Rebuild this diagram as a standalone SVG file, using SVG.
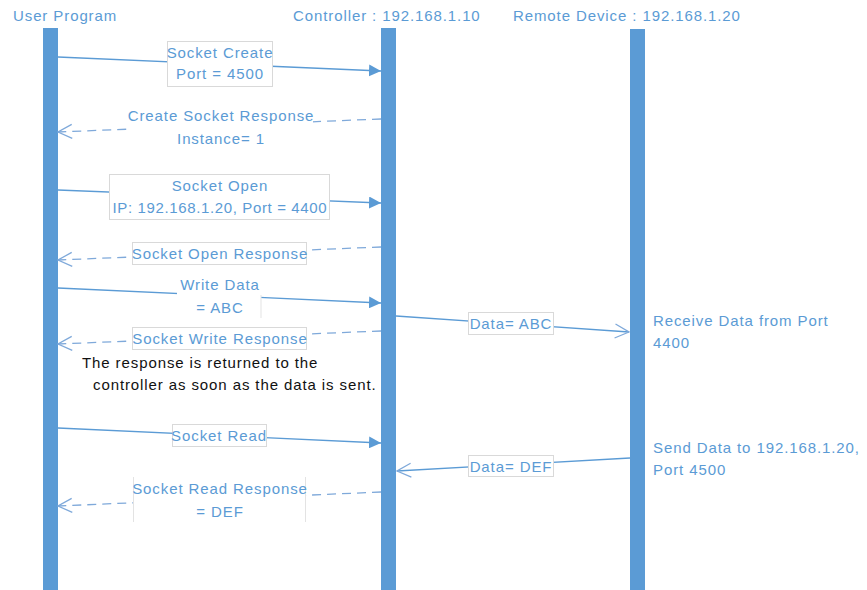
<svg xmlns="http://www.w3.org/2000/svg" width="867" height="590" viewBox="0 0 867 590">
<style>
text{font-family:"Liberation Sans",Arial,sans-serif;font-size:15px;letter-spacing:0.9px;fill:#5B9BD5}
.c{text-anchor:middle}
.note{fill:#111;letter-spacing:0.9px}
.bar{fill:#5B9BD5}
.msg{stroke:#5B9BD5;stroke-width:1.3;fill:none}
.ret{stroke:#7FA9DA;stroke-width:1.3;fill:none;stroke-dasharray:9,6}
.box{fill:#fff;stroke:#D9D9D9;stroke-width:1}
.bg{fill:#fff}
.edge{stroke:#E3E3E3;stroke-width:1}
</style>
<defs>
<marker id="filled" viewBox="0 0 12 12" refX="12" refY="6" markerWidth="12" markerHeight="12" markerUnits="userSpaceOnUse" orient="auto">
<path d="M0,0 L12,6 L0,12 Z" fill="#5B9BD5"/>
</marker>
<marker id="open" viewBox="0 0 16 16" refX="15" refY="8" markerWidth="16" markerHeight="16" markerUnits="userSpaceOnUse" orient="auto">
<path d="M1,1 L15,8 L1,15" fill="none" stroke="#7FA9DA" stroke-width="1.3"/>
</marker>
</defs>
<rect width="867" height="590" fill="#fff"/>

<g id="user-program">
<rect class="bar" x="43" y="28" width="15" height="562"/>
<text x="13" y="21">User Program</text>
</g>
<g id="controller">
<rect class="bar" x="381" y="28" width="15" height="562"/>
<text x="293" y="21">Controller : 192.168.1.10</text>
</g>
<g id="remote-device">
<rect class="bar" x="630" y="29" width="15" height="561"/>
<text x="513" y="21">Remote Device : 192.168.1.20</text>
<text x="653" y="326">Receive Data from Port</text>
<text x="653" y="348">4400</text>
<text x="653" y="453">Send Data to 192.168.1.20,</text>
<text x="653" y="475">Port 4500</text>
</g>

<g id="connectors">
<line class="msg" x1="58" y1="57" x2="381" y2="71" marker-end="url(#filled)"/>
<line class="ret" x1="381" y1="119" x2="58" y2="132" marker-end="url(#open)"/>
<line class="msg" x1="58" y1="190" x2="381" y2="203" marker-end="url(#filled)"/>
<line class="ret" x1="381" y1="247" x2="58" y2="260" marker-end="url(#open)"/>
<line class="msg" x1="58" y1="288" x2="381" y2="303" marker-end="url(#filled)"/>
<line class="ret" x1="381" y1="331" x2="58" y2="344" marker-end="url(#open)"/>
<line class="msg" x1="58" y1="428" x2="381" y2="443" marker-end="url(#filled)"/>
<line class="ret" x1="381" y1="492" x2="58" y2="506" marker-end="url(#open)"/>
<line class="msg" x1="396" y1="316" x2="629" y2="332" marker-end="url(#open)"/>
<line class="msg" x1="630" y1="458" x2="397" y2="471" marker-end="url(#open)"/>
</g>

<g id="label-socket-create">
<rect class="box" x="167.5" y="41.5" width="105" height="45"/>
<text class="c" x="220" y="58">Socket Create</text>
<text class="c" x="220" y="79">Port = 4500</text>
</g>
<g id="label-create-socket-response">
<rect class="bg" x="128" y="105" width="185" height="40"/>
<text class="c" x="221" y="121">Create Socket Response</text>
<text class="c" x="221" y="144">Instance= 1</text>
</g>
<g id="label-socket-open">
<rect class="box" x="109.5" y="174.5" width="220" height="45"/>
<text class="c" x="220" y="191">Socket Open</text>
<text class="c" x="220" y="213" textLength="215" lengthAdjust="spacing">IP: 192.168.1.20, Port = 4400</text>
</g>
<g id="label-socket-open-response">
<rect class="box" x="132.5" y="242.5" width="174" height="22"/>
<text class="c" x="220" y="259">Socket Open Response</text>
</g>
<g id="label-write-data">
<rect class="bg" x="177" y="276" width="84" height="42"/>
<line class="edge" x1="261" y1="295" x2="261" y2="318"/>
<text class="c" x="220" y="290">Write Data</text>
<text class="c" x="220" y="313">= ABC</text>
</g>
<g id="label-socket-write-response">
<rect class="box" x="132.5" y="327.5" width="174" height="22"/>
<text class="c" x="220" y="344">Socket Write Response</text>
</g>
<g id="note">
<text class="note" x="82" y="368">The response is returned to the</text>
<text class="note" x="93" y="390">controller as soon as the data is sent.</text>
</g>
<g id="label-socket-read">
<rect class="box" x="172.5" y="424.5" width="94" height="22"/>
<text class="c" x="219" y="441">Socket Read</text>
</g>
<g id="label-socket-read-response">
<rect class="bg" x="133" y="477" width="172" height="45"/>
<line class="edge" x1="133.5" y1="477" x2="133.5" y2="522"/>
<line class="edge" x1="305.5" y1="477" x2="305.5" y2="522"/>
<text class="c" x="220" y="494">Socket Read Response</text>
<text class="c" x="220" y="517">= DEF</text>
</g>
<g id="label-data-abc">
<rect class="box" x="468.5" y="312.5" width="85" height="22"/>
<text class="c" x="511" y="329">Data= ABC</text>
</g>
<g id="label-data-def">
<rect class="box" x="468.5" y="455.5" width="85" height="21"/>
<text class="c" x="511" y="472">Data= DEF</text>
</g>
</svg>
